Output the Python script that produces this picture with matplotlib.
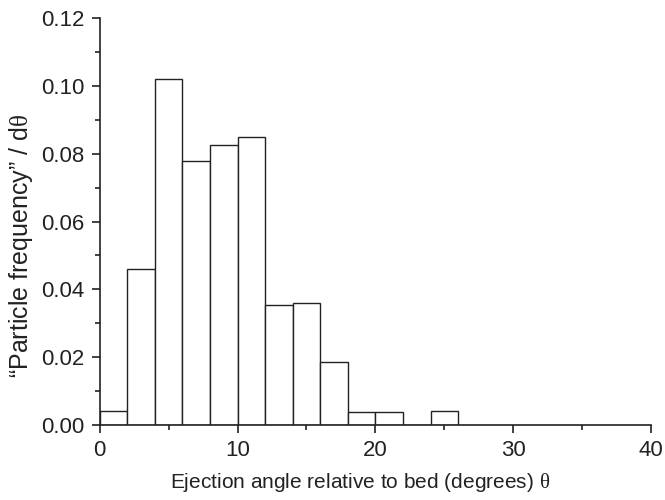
import matplotlib.pyplot as plt
import numpy as np

plt.rcParams['font.family'] = ['Liberation Sans', 'DejaVu Sans']
plt.rcParams['mathtext.fontset'] = 'custom'
plt.rcParams['mathtext.rm'] = 'Liberation Serif'

# bin left edges (degrees) and frequency per degree
bin_left = [0, 2, 4, 6, 8, 10, 12, 14, 16, 18, 20, 22, 24]
freq = [0.004, 0.046, 0.102, 0.0778, 0.0825, 0.085, 0.0355, 0.036, 0.0187, 0.0039, 0.0039, 0.0, 0.004]
bin_width = 2

fig = plt.figure(figsize=(6.65, 5), dpi=100)
ax = fig.add_axes([0.150, 0.15, 0.829, 0.814])

ax.bar(bin_left, freq, width=bin_width, align='edge', color='white',
       edgecolor='#222222', linewidth=1.0)

ax.set_xlim(0, 40)
ax.set_ylim(0, 0.12)
ax.set_xticks([0, 10, 20, 30, 40])
ax.set_xticks([5, 15, 25, 35], minor=True)
ax.set_yticks(np.arange(0, 0.121, 0.02))
ax.set_yticks(np.arange(0.01, 0.12, 0.02), minor=True)
ax.yaxis.set_major_formatter(plt.FormatStrFormatter('%.2f'))

for s in ['top', 'right']:
    ax.spines[s].set_visible(False)
for s in ['left', 'bottom']:
    ax.spines[s].set_linewidth(1.2)
    ax.spines[s].set_color('#222222')

ax.tick_params(which='major', direction='out', length=6, width=1.2,
               labelsize=16, colors='#222222', pad=5)
ax.tick_params(which='minor', direction='out', length=3.5, width=1.2, colors='#222222')

ax.set_xlabel('Ejection angle relative to bed (degrees) $\\mathrm{θ}$', fontsize=15,
              color='#222222', va='center')
ax.set_ylabel('\u201cParticle frequency\u201d / d$\\mathrm{θ}$', fontsize=18,
              color='#222222', va='center')
ax.xaxis.set_label_coords(0.472, -0.142)
ax.yaxis.set_label_coords(-0.143, 0.44)

fig.savefig('out.png', dpi=100)
